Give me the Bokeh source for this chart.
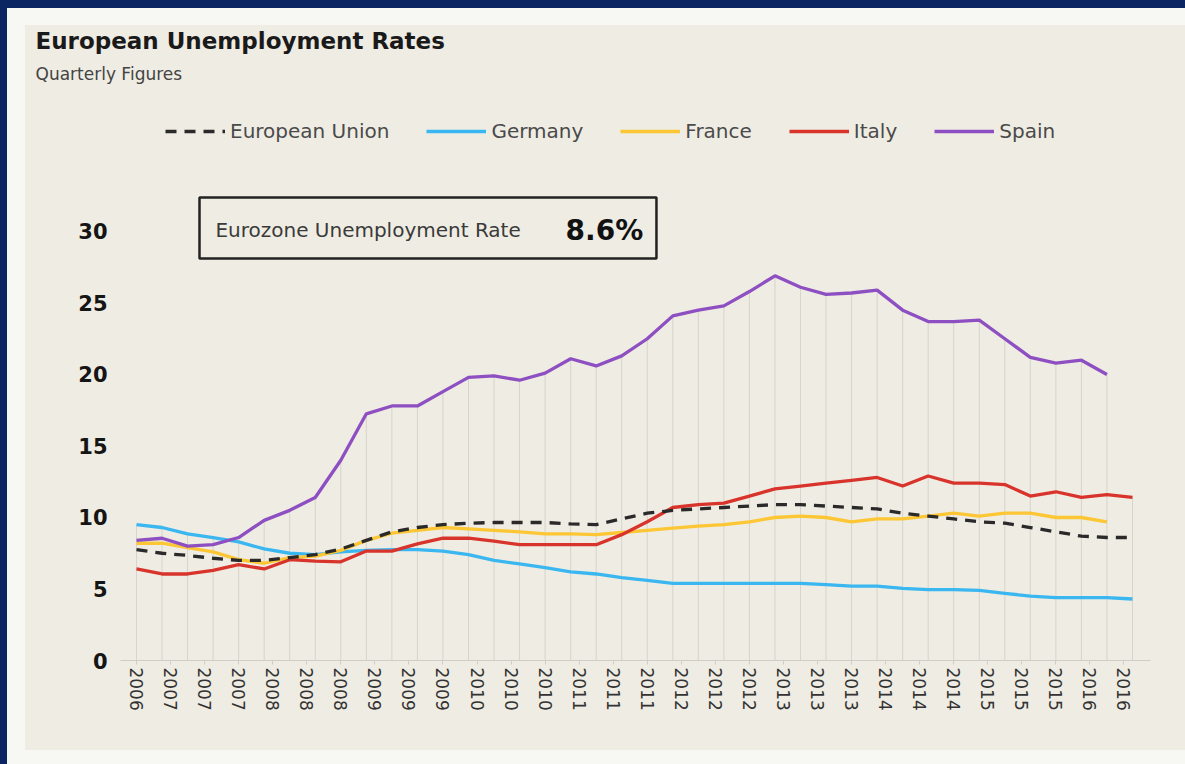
import numpy as np
from bokeh.plotting import figure
from bokeh.models import Range1d, FixedTicker, Legend, LegendItem, Label, BoxAnnotation, Title
from bokeh.embed import file_html
from bokeh.resources import INLINE

# ---------------- data ----------------
quarters = list(range(40))
tick_labels = ["2006", "2007", "2007", "2007", "2008", "2008", "2008", "2009", "2009", "2009",
               "2010", "2010", "2010", "2011", "2011", "2011", "2012", "2012", "2012", "2013",
               "2013", "2013", "2014", "2014", "2014", "2015", "2015", "2015", "2016", "2016"]

eu = [7.75, 7.5, 7.35, 7.15, 7.0, 7.0, 7.2, 7.4, 7.8, 8.4,
      9.0, 9.3, 9.5, 9.6, 9.65, 9.65, 9.65, 9.55, 9.5, 9.9,
      10.3, 10.5, 10.6, 10.7, 10.8, 10.9, 10.9, 10.8, 10.7, 10.6,
      10.3, 10.1, 9.9, 9.7, 9.6, 9.3, 9.0, 8.7, 8.6, 8.6]
germany = [9.5, 9.3, 8.85, 8.6, 8.3, 7.8, 7.5, 7.4, 7.6, 7.7,
           7.75, 7.75, 7.65, 7.4, 7.0, 6.75, 6.5, 6.2, 6.05, 5.8,
           5.6, 5.4, 5.4, 5.4, 5.4, 5.4, 5.4, 5.3, 5.2, 5.2,
           5.05, 4.95, 4.95, 4.9, 4.7, 4.5, 4.4, 4.4, 4.4, 4.3]
france = [8.2, 8.2, 7.9, 7.6, 7.05, 6.8, 7.2, 7.3, 7.7, 8.4,
          8.9, 9.1, 9.3, 9.2, 9.1, 9.0, 8.85, 8.85, 8.8, 8.95,
          9.1, 9.25, 9.4, 9.5, 9.7, 10.0, 10.1, 10.0, 9.7, 9.9,
          9.9, 10.1, 10.3, 10.1, 10.3, 10.3, 10.0, 10.0, 9.7]
italy = [6.4, 6.05, 6.05, 6.3, 6.7, 6.4, 7.05, 6.95, 6.9, 7.65,
         7.65, 8.15, 8.55, 8.55, 8.35, 8.1, 8.1, 8.1, 8.1, 8.8,
         9.7, 10.7, 10.9, 11.0, 11.5, 12.0, 12.2, 12.4, 12.6, 12.8,
         12.2, 12.9, 12.4, 12.4, 12.3, 11.5, 11.8, 11.4, 11.6, 11.4]
spain = [8.4, 8.55, 8.0, 8.1, 8.6, 9.8, 10.5, 11.4, 14.0, 17.25,
         17.8, 17.8, 18.8, 19.8, 19.9, 19.6, 20.1, 21.1, 20.6, 21.3,
         22.5, 24.1, 24.5, 24.8, 25.8, 26.9, 26.1, 25.6, 25.7, 25.9,
         24.5, 23.7, 23.7, 23.8, 22.5, 21.2, 20.8, 21.0, 20.0]

series_names = ["European Union", "Germany", "France", "Italy", "Spain"]
series_values = [eu, germany, france, italy, spain]
series_colors = ["#2a2a2a", "#3ab7f0", "#fcc634", "#d8342c", "#8d4fc1"]

FONT = "DejaVu Sans"
BG = "#efece3"

# ---------------- figure ----------------
p = figure(width=1160, height=725, output_backend="svg", toolbar_location=None,
           x_range=Range1d(-0.6265, 39.705), y_range=Range1d(0, 39.51),
           min_border_left=95, min_border_right=35, min_border_top=70, min_border_bottom=90,
           background_fill_color=None, border_fill_color=BG)
p.margin = (25, 0, 0, 25)
p.styles = {"background-color": BG,
            "box-shadow": "-1px 0px 0px 17px #f7f7f4, 0px 0px 0px 25px #0b2462"}
p.outline_line_color = None
p.xgrid.visible = False
p.ygrid.visible = False

# title & subtitle (subtitle added first so it sits nearest the frame)
p.add_layout(Title(text="Quarterly Figures", align="left", offset=-85, standoff=24,
                   text_font=FONT, text_font_size="17px", text_font_style="normal",
                   text_color="#444444"), "above")
p.add_layout(Title(text="European Unemployment Rates", align="left", offset=-85, standoff=-8,
                   text_font=FONT, text_font_size="23px", text_font_style="bold",
                   text_color="#1a1a1a"), "above")

# drop lines from the highest series value down to the axis
padded = np.full((len(series_values), len(quarters)), np.nan)
for i, s in enumerate(series_values):
    padded[i, :len(s)] = s
top = np.nanmax(padded, axis=0)
p.segment(x0=quarters, y0=[0] * len(quarters), x1=quarters, y1=list(top),
          line_color="#d6d4cb", line_width=1)

renderers = {}
draw_order = [1, 2, 3, 4, 0]
for i in draw_order:
    vals = series_values[i]
    kw = dict(line_color=series_colors[i], line_width=3.3)
    if i == 0:
        kw["line_dash"] = "11 8"
    renderers[i] = p.line(quarters[:len(vals)], vals, **kw)

legend = Legend(items=[LegendItem(label=series_names[i], renderers=[renderers[i]]) for i in range(5)],
                orientation="horizontal", location=(45, 517),
                glyph_width=60, glyph_height=20, label_standoff=5, spacing=37,
                padding=0, margin=0, border_line_color=None, background_fill_alpha=0,
                label_text_font=FONT, label_text_font_size="20px", label_text_color="#4a4a4a")
p.add_layout(legend)

# axes
tick_pos = [round(4 * i / 3, 6) for i in range(len(tick_labels))]
p.xaxis.ticker = FixedTicker(ticks=tick_pos)
p.xaxis.major_label_overrides = {tp: lab for tp, lab in zip(tick_pos, tick_labels)}
p.xaxis.major_label_orientation = "vertical"
p.xaxis.major_label_text_font = FONT
p.xaxis.major_label_text_font_size = "17px"
p.xaxis.major_label_text_color = "#333333"
p.xaxis.axis_line_color = "#cfcdc6"
p.xaxis.major_tick_line_color = "#cfcdc6"
p.xaxis.major_tick_out = 4
p.xaxis.major_tick_in = 0
p.xaxis.minor_tick_line_color = None
p.xaxis.major_label_standoff = 3

p.yaxis.ticker = FixedTicker(ticks=[0, 5, 10, 15, 20, 25, 30])
p.yaxis.axis_line_color = None
p.yaxis.major_tick_line_color = None
p.yaxis.minor_tick_line_color = None
p.yaxis.major_label_standoff = 7
p.yaxis.major_label_text_font = FONT
p.yaxis.major_label_text_font_size = "21px"
p.yaxis.major_label_text_font_style = "bold"
p.yaxis.major_label_text_color = "#151515"

# eurozone callout box
p.add_layout(BoxAnnotation(left=2.467, right=20.36, bottom=28.11, top=32.38,
                           fill_alpha=0, line_color="#222222", line_alpha=1, line_width=2.5))
p.add_layout(Label(x=3.09, y=30.13, text="Eurozone Unemployment Rate", text_font=FONT,
                   text_font_size="20px", text_color="#3a3a3a", text_baseline="alphabetic"))
p.add_layout(Label(x=16.8, y=30.07, text=f"{eu[-1]:.1f}%", text_font=FONT,
                   text_font_size="28px", text_font_style="bold", text_color="#111111",
                   text_baseline="alphabetic"))

open("out.html", "w").write(file_html(p, INLINE))
